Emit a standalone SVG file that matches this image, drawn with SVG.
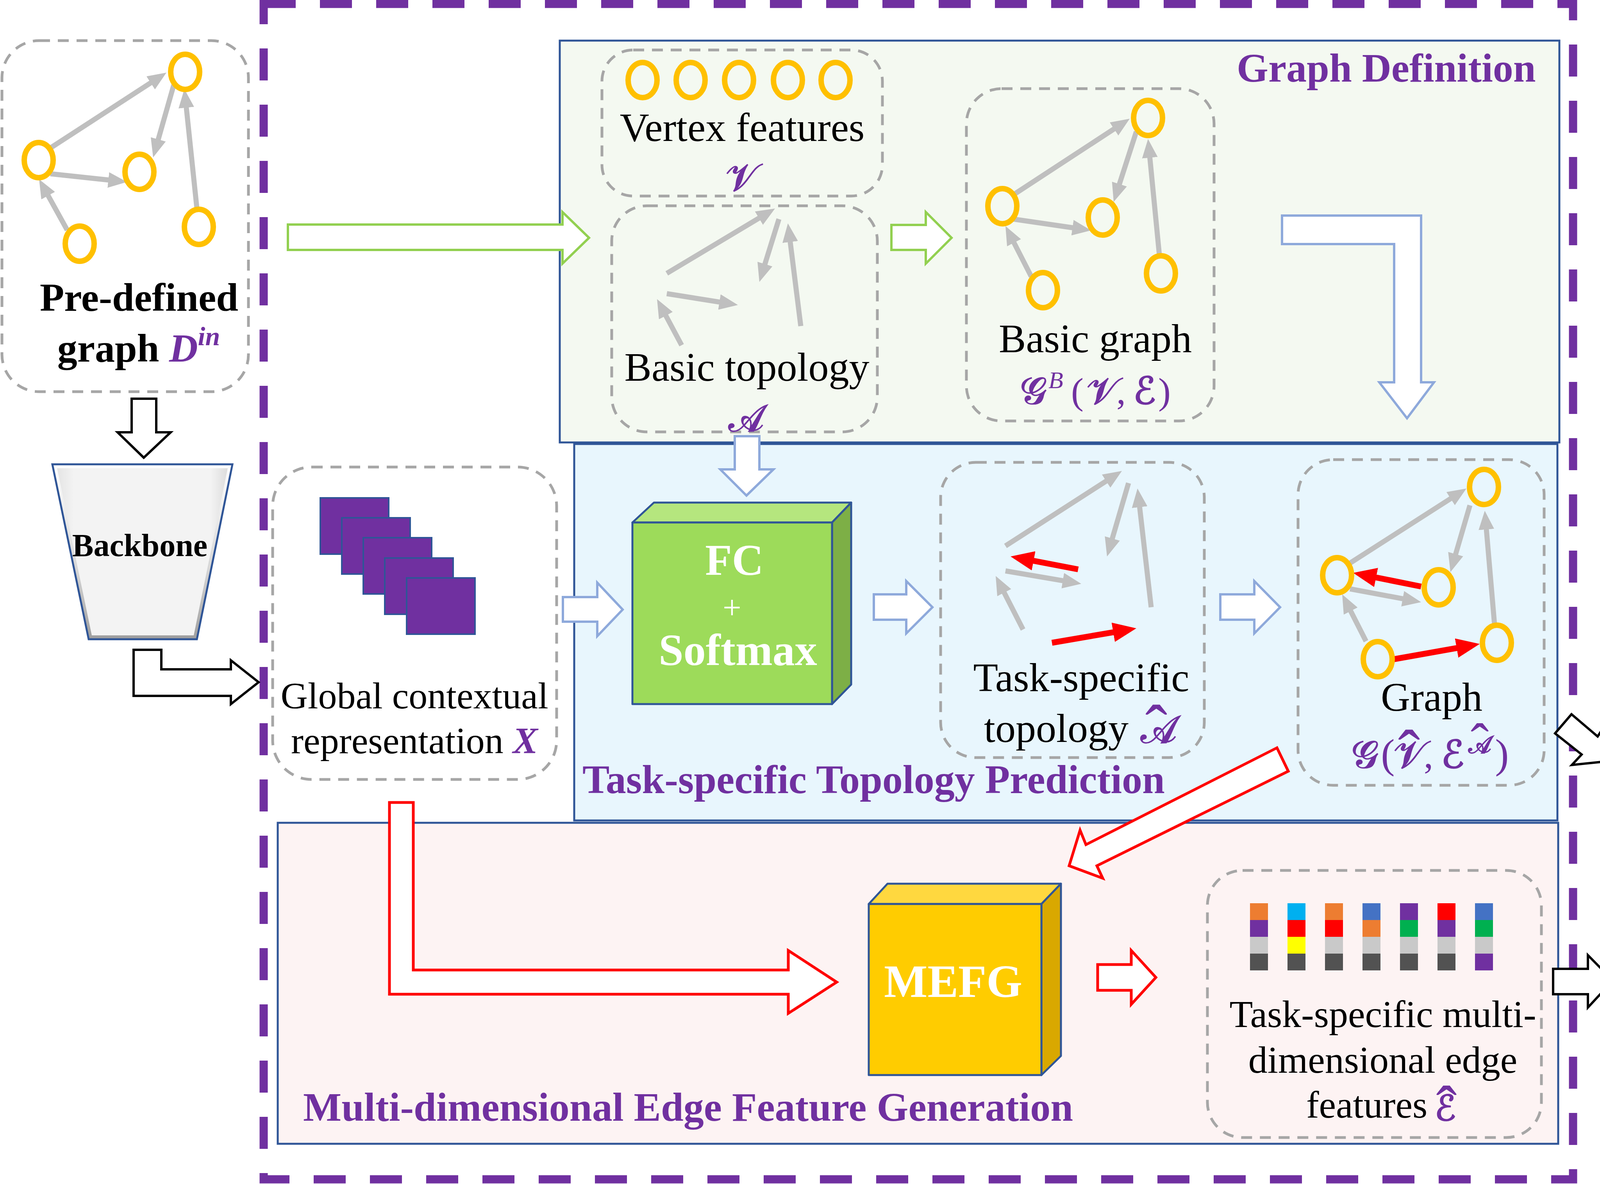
<svg xmlns="http://www.w3.org/2000/svg" width="4876" height="3032" viewBox="0 0 4876 3032">
<defs>
<style>
text{font-family:"Liberation Serif","Times New Roman",serif;fill:#000;}
.t{font-size:104px;}
.b{font-weight:bold;}
.pu{fill:#7030A0;}
.m{font-family:"DejaVu Serif","DejaVu Sans",serif;fill:#7030A0;stroke:#7030A0;stroke-width:2.5;}
.mi{font-family:"Liberation Serif",serif;fill:#7030A0;font-style:italic;stroke:none;}
.pp{font-family:"Liberation Serif",serif;fill:#7030A0;stroke:none;}
.hc{font-family:"Liberation Serif",serif;fill:#7030A0;stroke:none;}
.w{fill:#FFFFFF;}
.panel{stroke:#2F5597;stroke-width:5;}
.dbox{fill:none;stroke:#A6A6A6;stroke-width:7;stroke-dasharray:28 20;}
.nd{fill:none;stroke:#FFC000;stroke-width:14;}
.ge{stroke:#BFBFBF;stroke-width:13;fill:none;marker-end:url(#ag);}
.re{stroke:#FF0000;stroke-width:15;fill:none;marker-end:url(#ar);}
.re2{stroke:#FF0000;stroke-width:10;fill:none;marker-end:url(#ar2);}
.ga{fill:#FFFFFF;stroke:#92D050;stroke-width:6;}
.ba{fill:#FFFFFF;stroke:#8EA9DB;stroke-width:6;}
.ka{fill:#FFFFFF;stroke:#000000;stroke-width:6;}
.ra{fill:#FFFFFF;stroke:#FF0000;stroke-width:7;}
.cube{stroke:#2F5597;stroke-width:5;stroke-linejoin:round;}
</style>
<marker id="ag" viewBox="0 0 48 40" refX="20" refY="20" markerWidth="48" markerHeight="40" markerUnits="userSpaceOnUse" orient="auto"><path d="M0,0 L48,20 L0,40 z" fill="#BFBFBF"/></marker>
<marker id="ar" viewBox="0 0 60 50" refX="24" refY="25" markerWidth="60" markerHeight="50" markerUnits="userSpaceOnUse" orient="auto"><path d="M0,0 L60,25 L0,50 z" fill="#FF0000"/></marker>
<marker id="ar2" viewBox="0 0 48 40" refX="12" refY="20" markerWidth="48" markerHeight="40" markerUnits="userSpaceOnUse" orient="auto"><path d="M0,0 L48,20 L0,40 z" fill="#FF0000"/></marker>
<linearGradient id="bbg" x1="0" y1="0" x2="0" y2="1"><stop offset="0" stop-color="#FFFFFF"/><stop offset="0.6" stop-color="#D6D6D6"/><stop offset="1" stop-color="#9E9E9E"/></linearGradient>
<linearGradient id="bbh" x1="0" y1="0" x2="1" y2="0"><stop offset="0" stop-color="#E4E4E4"/><stop offset="0.1" stop-color="#F3F3F3"/><stop offset="0.9" stop-color="#F3F3F3"/><stop offset="1" stop-color="#DCDCDC"/></linearGradient>
<g id="p1"><rect x="0" y="0" width="46" height="43" fill="#ED7D31"/><rect x="0" y="43" width="46" height="43" fill="#7030A0"/><rect x="0" y="86" width="46" height="43" fill="#C9C9C9"/><rect x="0" y="129" width="46" height="43" fill="#525252"/></g>
<g id="p2"><rect x="0" y="0" width="46" height="43" fill="#00B0F0"/><rect x="0" y="43" width="46" height="43" fill="#FF0000"/><rect x="0" y="86" width="46" height="43" fill="#FFFF00"/><rect x="0" y="129" width="46" height="43" fill="#525252"/></g>
<g id="p3"><rect x="0" y="0" width="46" height="43" fill="#ED7D31"/><rect x="0" y="43" width="46" height="43" fill="#FF0000"/><rect x="0" y="86" width="46" height="43" fill="#C9C9C9"/><rect x="0" y="129" width="46" height="43" fill="#525252"/></g>
<g id="p4"><rect x="0" y="0" width="46" height="43" fill="#4472C4"/><rect x="0" y="43" width="46" height="43" fill="#ED7D31"/><rect x="0" y="86" width="46" height="43" fill="#C9C9C9"/><rect x="0" y="129" width="46" height="43" fill="#525252"/></g>
<g id="p5"><rect x="0" y="0" width="46" height="43" fill="#7030A0"/><rect x="0" y="43" width="46" height="43" fill="#00B050"/><rect x="0" y="86" width="46" height="43" fill="#C9C9C9"/><rect x="0" y="129" width="46" height="43" fill="#525252"/></g>
<g id="p6"><rect x="0" y="0" width="46" height="43" fill="#FF0000"/><rect x="0" y="43" width="46" height="43" fill="#7030A0"/><rect x="0" y="86" width="46" height="43" fill="#C9C9C9"/><rect x="0" y="129" width="46" height="43" fill="#525252"/></g>
<g id="p7"><rect x="0" y="0" width="46" height="43" fill="#4472C4"/><rect x="0" y="43" width="46" height="43" fill="#00B050"/><rect x="0" y="86" width="46" height="43" fill="#C9C9C9"/><rect x="0" y="129" width="46" height="43" fill="#7030A0"/></g>
</defs>
<rect x="0" y="0" width="4876" height="3032" fill="#FFFFFF"/>

<!-- panels -->
<g id="panel-mefg"><rect class="panel" x="711" y="2107" width="3278" height="822" fill="#FDF3F3"/></g>
<g id="panel-topology"><rect class="panel" x="1470" y="1137" width="2517" height="964" fill="#E8F6FD"/></g>
<g id="panel-graphdef"><rect class="panel" x="1433" y="104" width="2559" height="1029" fill="#F4F9F1"/></g>

<!-- outer dashed frame -->
<g id="frame"><rect x="675" y="10" width="3352" height="3010" fill="none" stroke="#7030A0" stroke-width="21" stroke-dasharray="82 62"/></g>

<!-- Pre-defined graph -->
<g id="predefined">
<rect class="dbox" x="5" y="104" width="631" height="899" rx="95"/>
<line class="ge" x1="129" y1="379" x2="402.5" y2="201.3"/>
<line class="ge" x1="445" y1="217" x2="399.7" y2="376.1"/>
<line class="ge" x1="129" y1="445" x2="297.2" y2="463"/>
<line class="ge" x1="172" y1="589" x2="113.6" y2="483.5"/>
<line class="ge" x1="504" y1="533" x2="474.9" y2="255.8"/>
<ellipse class="nd" cx="474" cy="184" rx="37" ry="45"/>
<ellipse class="nd" cx="99" cy="410" rx="37" ry="45"/>
<ellipse class="nd" cx="357" cy="440" rx="37" ry="45"/>
<ellipse class="nd" cx="204" cy="624" rx="37" ry="45"/>
<ellipse class="nd" cx="509" cy="581" rx="37" ry="45"/>
<text class="b" x="356" y="796" font-size="102" text-anchor="middle">Pre-defined</text>
<text class="b" x="355" y="926" font-size="102" text-anchor="middle">graph <tspan class="pu" font-style="italic">D</tspan><tspan class="pu" font-style="italic" font-size="68" dy="-42">in</tspan></text>
</g>

<!-- Backbone -->
<g id="backbone">
<polygon points="134,1189 595,1189 504,1637 227,1637" fill="url(#bbg)" stroke="#2F5597" stroke-width="5"/>
<polygon points="146,1199 583,1199 496,1627 235,1627" fill="url(#bbh)"/>
<text class="b" x="358" y="1424" font-size="82" text-anchor="middle">Backbone</text>
</g>

<!-- Global contextual representation -->
<g id="global">
<rect class="dbox" x="698" y="1196" width="727" height="800" rx="100"/>
<rect x="820" y="1275" width="175" height="144" fill="#7030A0" stroke="#2F5597" stroke-width="4"/>
<rect x="875" y="1326" width="175" height="144" fill="#7030A0" stroke="#2F5597" stroke-width="4"/>
<rect x="930" y="1377" width="175" height="144" fill="#7030A0" stroke="#2F5597" stroke-width="4"/>
<rect x="985" y="1429" width="175" height="144" fill="#7030A0" stroke="#2F5597" stroke-width="4"/>
<rect x="1041" y="1480" width="175" height="144" fill="#7030A0" stroke="#2F5597" stroke-width="4"/>
<text x="1061" y="1814" font-size="96" text-anchor="middle">Global contextual</text>
<text x="1061" y="1929" font-size="96" text-anchor="middle">representation <tspan class="pu b" font-style="italic">X</tspan></text>
</g>

<!-- Vertex features -->
<g id="vertex-features">
<rect class="dbox" x="1541" y="128" width="718" height="374" rx="80"/>
<ellipse class="nd" cx="1645" cy="205" rx="37" ry="45" stroke-width="16"/>
<ellipse class="nd" cx="1768" cy="205" rx="37" ry="45" stroke-width="16"/>
<ellipse class="nd" cx="1892" cy="205" rx="37" ry="45" stroke-width="16"/>
<ellipse class="nd" cx="2017" cy="205" rx="37" ry="45" stroke-width="16"/>
<ellipse class="nd" cx="2139" cy="205" rx="37" ry="45" stroke-width="16"/>
<text class="t" x="1900" y="361" text-anchor="middle">Vertex features</text>
<text class="m" x="1899" y="488" font-size="98" text-anchor="middle">𝒱</text>
</g>

<!-- Basic topology -->
<g id="basic-topology">
<rect class="dbox" x="1566" y="527" width="680" height="579" rx="90"/>
<line class="ge" x1="1707" y1="700" x2="1960" y2="548.4"/>
<line class="ge" x1="1994" y1="561" x2="1952.3" y2="695.3"/>
<line class="ge" x1="2050" y1="835" x2="2020.5" y2="599.8"/>
<line class="ge" x1="1707" y1="752" x2="1861.4" y2="776.6"/>
<line class="ge" x1="1745" y1="884" x2="1695.2" y2="790.7"/>
<text class="t" x="1912" y="975" text-anchor="middle">Basic topology</text>
<text class="m" x="1910" y="1104" font-size="96" text-anchor="middle">𝒜</text>
</g>

<!-- Basic graph -->
<g id="basic-graph">
<rect class="dbox" x="2474" y="227" width="634" height="851" rx="90"/>
<line class="ge" x1="2594" y1="499" x2="2868.6" y2="319.3"/>
<line class="ge" x1="2909" y1="337" x2="2859.6" y2="490.3"/>
<line class="ge" x1="2594" y1="561" x2="2765.3" y2="586"/>
<line class="ge" x1="2640" y1="708" x2="2586.8" y2="603.9"/>
<line class="ge" x1="2968" y1="653" x2="2941.7" y2="383.9"/>
<ellipse class="nd" cx="2939" cy="302" rx="37" ry="45"/>
<ellipse class="nd" cx="2566" cy="528" rx="37" ry="45"/>
<ellipse class="nd" cx="2823" cy="557" rx="37" ry="45"/>
<ellipse class="nd" cx="2670" cy="743" rx="37" ry="45"/>
<ellipse class="nd" cx="2972" cy="700" rx="37" ry="45"/>
<text class="t" x="2804" y="902" text-anchor="middle">Basic graph</text>
<text font-size="96" text-anchor="middle" y="1034"><tspan class="m" x="2645">𝒢</tspan><tspan class="mi" x="2703" y="994" font-size="62">B</tspan><tspan class="pp" x="2758" y="1034">(</tspan><tspan class="m" x="2822">𝒱</tspan><tspan class="pp" x="2870">,</tspan><tspan class="m" x="2930">ℰ</tspan><tspan class="pp" x="2981">)</tspan></text>
</g>

<text class="b pu" x="3166" y="209" font-size="104">Graph Definition</text>

<!-- FC + Softmax -->
<g id="fc-softmax">
<polygon class="cube" points="1619,1338 1674,1287 2179,1287 2130,1338" fill="#B5E67E"/>
<polygon class="cube" points="2130,1338 2179,1287 2179,1753 2130,1803" fill="#7DAF46"/>
<rect class="cube" x="1619" y="1338" width="511" height="465" fill="#9DDB5A"/>
<text class="b w" x="1880" y="1472" font-size="112" text-anchor="middle">FC</text>
<text class="w" x="1874" y="1584" font-size="84" text-anchor="middle">+</text>
<text class="b w" x="1889" y="1703" font-size="114" text-anchor="middle">Softmax</text>
</g>

<!-- Task-specific topology -->
<g id="task-topology">
<rect class="dbox" x="2408" y="1184" width="675" height="756" rx="90"/>
<line class="ge" x1="2574" y1="1398" x2="2848.5" y2="1221.2"/>
<line class="ge" x1="2889" y1="1237" x2="2841.9" y2="1398.1"/>
<line class="ge" x1="2947" y1="1555" x2="2915.2" y2="1278.8"/>
<line class="ge" x1="2574" y1="1462" x2="2740.4" y2="1490.3"/>
<line class="ge" x1="2619" y1="1612" x2="2561.7" y2="1499.9"/>
<line class="re" x1="2760" y1="1458" x2="2622.4" y2="1431.7"/>
<line class="re" x1="2693" y1="1646" x2="2873.5" y2="1615.1"/>
<text class="t" x="2768" y="1770" text-anchor="middle">Task-specific</text>
<text class="t" y="1900" text-anchor="middle"><tspan x="2704">topology</tspan><tspan class="m" x="2966" y="1902" font-size="98">𝒜</tspan><tspan class="hc" x="2960" y="1923" font-size="170">ˆ</tspan></text>
</g>

<!-- Graph -->
<g id="graph">
<rect class="dbox" x="3323" y="1177" width="630" height="834" rx="90"/>
<line class="ge" x1="3456" y1="1442" x2="3730.4" y2="1266.1"/>
<line class="ge" x1="3763" y1="1294" x2="3720.9" y2="1438.1"/>
<line class="ge" x1="3456" y1="1508" x2="3610.5" y2="1536.9"/>
<line class="ge" x1="3497" y1="1642" x2="3448.7" y2="1547"/>
<line class="ge" x1="3826" y1="1599" x2="3803.4" y2="1335.9"/>
<line class="re" x1="3638" y1="1502" x2="3499.3" y2="1474.1"/>
<line class="re" x1="3569" y1="1688" x2="3752.6" y2="1655.3"/>
<ellipse class="nd" cx="3799" cy="1247" rx="37" ry="45"/>
<ellipse class="nd" cx="3423" cy="1473" rx="37" ry="45"/>
<ellipse class="nd" cx="3683" cy="1504" rx="37" ry="45"/>
<ellipse class="nd" cx="3527" cy="1688" rx="37" ry="45"/>
<ellipse class="nd" cx="3832" cy="1646" rx="37" ry="45"/>
<text class="t" x="3665" y="1820" text-anchor="middle">Graph</text>
<text font-size="98" text-anchor="middle" y="1966"><tspan class="m" x="3494">𝒢</tspan><tspan class="pp" x="3553" font-size="106">(</tspan><tspan class="m" x="3609">𝒱</tspan><tspan class="hc" x="3607" y="1987" font-size="170">ˆ</tspan><tspan class="pp" x="3657" y="1966">,</tspan><tspan class="m" x="3719">ℰ</tspan><tspan class="m" x="3788" y="1928" font-size="62">𝒜</tspan><tspan class="hc" x="3788" y="1950" font-size="140">ˆ</tspan><tspan class="pp" x="3845" y="1966" font-size="106">)</tspan></text>
</g>

<text class="b pu" x="1491" y="2031" font-size="104">Task-specific Topology Prediction</text>

<!-- MEFG -->
<g id="mefg">
<polygon class="cube" points="2224,2315 2272,2263 2716,2263 2666,2315" fill="#FFD83F"/>
<polygon class="cube" points="2666,2315 2716,2263 2716,2704 2666,2753" fill="#D9A800"/>
<rect class="cube" x="2224" y="2315" width="442" height="438" fill="#FFCC00"/>
<text class="b w" x="2440" y="2553" font-size="118" text-anchor="middle">MEFG</text>
</g>

<!-- Edge features -->
<g id="edge-features">
<rect class="dbox" x="3091" y="2229" width="855" height="684" rx="90"/>
<use href="#p1" x="3200" y="2313"/>
<use href="#p2" x="3296" y="2313"/>
<use href="#p3" x="3392" y="2313"/>
<use href="#p4" x="3488" y="2313"/>
<use href="#p5" x="3584" y="2313"/>
<use href="#p6" x="3680" y="2313"/>
<use href="#p7" x="3776" y="2313"/>
<text x="3540" y="2630" font-size="98" text-anchor="middle">Task-specific multi-</text>
<text x="3540" y="2747" font-size="98" text-anchor="middle">dimensional edge</text>
<text y="2862" font-size="98" text-anchor="middle"><tspan x="3499">features</tspan><tspan class="m" x="3700" y="2869" font-size="90">ℰ</tspan><tspan class="hc" x="3703" y="2892" font-size="160">ˆ</tspan></text>
</g>

<text class="b pu" x="776" y="2870" font-size="104">Multi-dimensional Edge Feature Generation</text>

<!-- Task-specific graph -->
<g id="task-graph">
<rect class="dbox" x="4138" y="1757" width="730" height="1087" rx="110"/>
<line class="ge" x1="4252" y1="2094" x2="4629.2" y2="1859.8"/>
<line class="ge" x1="4677" y1="1884" x2="4605.7" y2="2102.4"/>
<line class="ge" x1="4252" y1="2178" x2="4488.3" y2="2215.6"/>
<line class="ge" x1="4311" y1="2373" x2="4225.1" y2="2225.2"/>
<line class="ge" x1="4756" y1="2305" x2="4716.9" y2="1934.8"/>
<line class="re2" x1="4504" y1="2178" x2="4302.5" y2="2144"/>
<line class="re2" x1="4409" y1="2419" x2="4667.4" y2="2378.6"/>
<ellipse class="nd" cx="4715" cy="1840" rx="52" ry="58"/>
<ellipse class="nd" cx="4211" cy="2138" rx="52" ry="58"/>
<ellipse class="nd" cx="4558" cy="2178" rx="52" ry="58"/>
<ellipse class="nd" cx="4351" cy="2422" rx="52" ry="58"/>
<ellipse class="nd" cx="4762" cy="2362" rx="52" ry="58"/>
<use href="#p4" x="4499" y="1836"/>
<use href="#p6" x="4622" y="1918"/>
<use href="#p3" x="4405" y="2009"/>
<use href="#p7" x="4767" y="2027"/>
<use href="#p2" x="4345" y="2174"/>
<use href="#p1" x="4194" y="2276"/>
<use href="#p5" x="4525" y="2306"/>
<text class="b" x="4489" y="2640" font-size="104" text-anchor="middle">Task-specific</text>
<text font-size="86" text-anchor="middle" y="2771"><tspan class="b" x="4298" font-size="104">graph</tspan><tspan class="m" x="4492">𝒢</tspan><tspan class="hc" x="4492" y="2799" font-size="180">ˆ</tspan><tspan class="pp" x="4574" y="2771" font-size="106">(</tspan><tspan class="m" x="4627">𝒱</tspan><tspan class="hc" x="4627" y="2811" font-size="200">ˆ</tspan><tspan class="pp" x="4675" y="2771" font-size="106">,</tspan><tspan class="m" x="4738">ℰ</tspan><tspan class="hc" x="4738" y="2799" font-size="180">ˆ</tspan><tspan class="pp" x="4789" y="2771" font-size="106">)</tspan></text>
</g>

<!-- connectors -->
<g id="connectors">
<polygon class="ka" points="337,1021 400,1021 400,1107 437,1107 368,1172 301,1107 337,1107"/>
<polygon class="ka" points="342,1664 413,1664 413,1714 591,1714 591,1691 662,1747 591,1803 591,1782 342,1782"/>
<polygon class="ga" points="737,575 1440,575 1440,543 1508,609 1440,675 1440,640 737,640"/>
<polygon class="ga" points="2282,576 2370,576 2370,543 2436,609 2370,675 2370,640 2282,640"/>
<polygon class="ba" points="3282,552 3638,552 3638,979 3671,979 3602,1071 3531,979 3569,979 3569,625 3282,625"/>
<polygon class="ba" points="1881,1117 1944,1117 1944,1202 1980,1202 1911,1269 1844,1202 1881,1202"/>
<polygon class="ba" points="1441,1529 1529,1529 1529,1492 1594,1561 1529,1629 1529,1592 1441,1592"/>
<polygon class="ba" points="2237,1522 2320,1522 2320,1488 2387,1555 2320,1622 2320,1587 2237,1587"/>
<polygon class="ba" points="3124,1522 3211,1522 3211,1488 3277,1555 3211,1622 3211,1587 3124,1587"/>
<polygon class="ra" points="3269,1915 2780,2163 2765,2126 2737,2217 2823,2249 2808,2217 3298,1975"/>
<polygon class="ra" points="997,2055 1058,2055 1058,2484 2018,2484 2018,2434 2142,2515 2018,2595 2018,2546 997,2546"/>
<polygon class="ra" points="2810,2470 2896,2470 2896,2434 2959,2503 2896,2572 2896,2536 2810,2536"/>
<polygon class="ka" points="3981,1878 4023,1829 4090,1886 4109,1857 4119,1949 4024,1959 4049,1932"/>
<polygon class="ka" points="3976,2481 4065,2481 4065,2446 4129,2511 4065,2580 4065,2546 3976,2546"/>
</g>
</svg>
